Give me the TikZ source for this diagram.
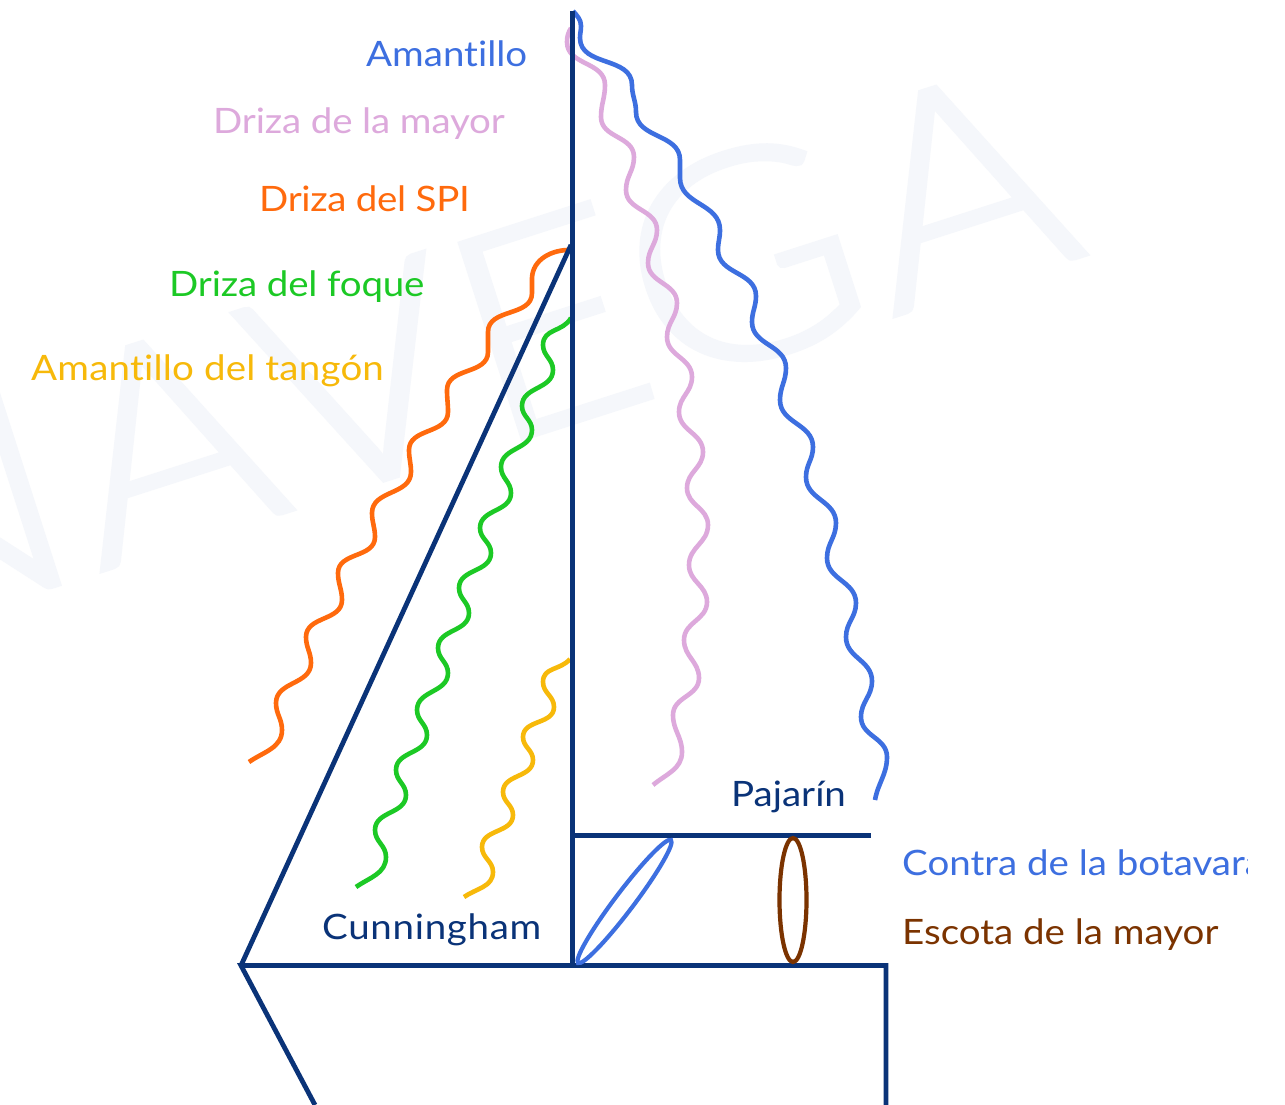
\documentclass[tikz,border=0pt]{standalone}
\usepackage{fontspec}
\setmainfont{Lato}[FakeStretch=1.1,Ligatures=NoCommon]
\newfontfamily\wmfont{Lato Light}[FakeStretch=1.1,FakeBold=1.6]
\usetikzlibrary{shapes.geometric}
\definecolor{navy}{HTML}{0A3378}
\definecolor{ropeblue}{HTML}{3D6FE0}
\definecolor{ropepink}{HTML}{DDA9DC}
\definecolor{ropeorange}{HTML}{FF6A0D}
\definecolor{ropegreen}{HTML}{1CC925}
\definecolor{ropeyellow}{HTML}{F7B90A}
\definecolor{ropebrown}{HTML}{7B3300}
\definecolor{wmark}{HTML}{F5F7FB}
\tikzset{
  hull/.style={draw=navy,line width=4.8pt},
  rope/.style={line width=4.6pt,line cap=butt,line join=round,every to/.style={out=-90,in=90,looseness=1.05}},
  lab/.style={anchor=base west,inner sep=0pt,font=\fontsize{35}{35}\selectfont},
  block/.style={ellipse,draw,line width=4.2pt,inner sep=0pt,fill=none},
  wmletter/.style={inner sep=0pt,rotate=17.8,text=wmark,font=\wmfont\fontsize{290}{290}\selectfont}
}
\begin{document}
\begin{tikzpicture}[x=1pt,y=-1pt]
\useasboundingbox (0,0) rectangle (1285,1105);
\fill[white] (0,0) rectangle (1285,1105);
\node[wmletter,anchor=base east] (wmN) at (91,574) {N};
\node[wmletter,anchor=base west] (wmA) at (98,572) {A};
\node[wmletter,anchor=base west] (wmV) at (291,510) {V};
\node[wmletter,anchor=base west] (wmE) at (491,449) {E};
\node[wmletter,anchor=base west] (wmG) at (661,391) {G};
\node[wmletter,anchor=base west] (wmB) at (891,317) {A};
% ropes
\draw[rope,ropepink] (571,28) to[out=-120,in=90,looseness=1] (567,42) to (605,85) to (601,117) to (634,157) to (626,190) to (657,230) to (648,263) to (677,303) to (667,337) to (692,377) to (679,412) to (703,452) to (687,488) to (708,525) to (689,565) to (707,602) to (684,640) to (699,678) to (673,715) to (682,752) to[out=-90,in=40,looseness=1] (653,785);
\draw[rope,ropeblue] (573,11) to[out=-50,in=90,looseness=1] (581,26) to (580,38) to (632,85) to (636,112) to (680,160) to (680,178) to (720,230) to (718,250) to (756,296) to (752,322) to (786,368) to (780,400) to (813,447) to (806,477) to (836,523) to (827,558) to (856,603) to (846,637) to (872,681) to (861,717) to (887,757) to[out=-90,in=80,looseness=1] (875,800);
\draw[rope,ropeorange] (571,250) to[out=178,in=88,looseness=1] (532,278) to (532,293) to (488,332) to (488,352) to (447,390) to (448,412) to (409,450) to (411,472) to (372,513) to (375,537) to (338,573) to (342,600) to (306,637) to (311,663) to (276,703) to (282,730) to[out=-90,in=35,looseness=1] (249,762);
\draw[rope,ropegreen] (571,318) to[out=-120,in=90,looseness=1.1] (543,345) to (553,370) to (522,406) to (532,430) to (501,467) to (511,493) to (480,528) to (491,553) to (459,588) to (469,613) to (438,648) to (448,673) to (417,710) to (427,735) to (396,770) to (406,795) to (375,830) to (386,857) to[out=-90,in=35,looseness=1] (356,887);
\draw[rope,ropeyellow] (570,659) to[out=-130,in=90,looseness=1.1] (543,682) to (554,707) to (523,737) to (533,760) to (503,792) to (513,815) to (482,847) to (493,872) to[out=-90,in=35,looseness=1] (464,897);
% hull and rig
\coordinate (head) at (572.5,11);
\coordinate (hounds) at (571,245);
\coordinate (foot) at (572.5,965.5);
\coordinate (bow) at (241,965.5);
\coordinate (stern) at (886,965.5);
\coordinate (keelA) at (315,1105);
\coordinate (keelB) at (886,1105);
\coordinate (boomA) at (572.5,835.5);
\coordinate (boomB) at (871,835.5);
\draw[hull] (head) -- (foot);
\draw[hull] (hounds) -- (bow);
\draw[hull,line join=miter] (keelA) -- (bow) -- (stern) -- (keelB);
\draw[hull] (boomA) -- (boomB);
% tackles
\node[block,draw=ropeblue,minimum width=154pt,minimum height=19pt,rotate=52.9] (cunningham) at (624.5,901.5) {};
\node[block,draw=ropebrown,minimum width=27pt,minimum height=124pt] (sheet) at (793,900) {};
% labels
\node[lab,text=ropeblue] (l1) at (366,67) {Amantillo};
\node[lab,text=ropepink] (l2) at (213,134) {\addfontfeature{LetterSpace=-0.5}Driza de la mayor};
\node[lab,text=ropeorange] (l3) at (259,211) {\addfontfeature{LetterSpace=-1}Driza del SPI};
\node[lab,text=ropegreen] (l4) at (169,296) {\addfontfeature{LetterSpace=-0.5}Driza del foque};
\node[lab,text=ropeyellow] (l5) at (31,380) {\addfontfeature{LetterSpace=0.6}Amantillo del tangón};
\node[lab,text=navy] (l6) at (731,806) {Pajarín};
\node[lab,text=navy] (l7) at (322,939) {\addfontfeature{LetterSpace=2}Cunningham};
\begin{scope}
\clip (890,840) rectangle (1247,900);
\node[lab,text=ropeblue] (l8) at (902,875) {Contra de la botavara};
\end{scope}
\node[lab,text=ropebrown] (l9) at (902,944) {Escota de la mayor};
\end{tikzpicture}
\end{document}
